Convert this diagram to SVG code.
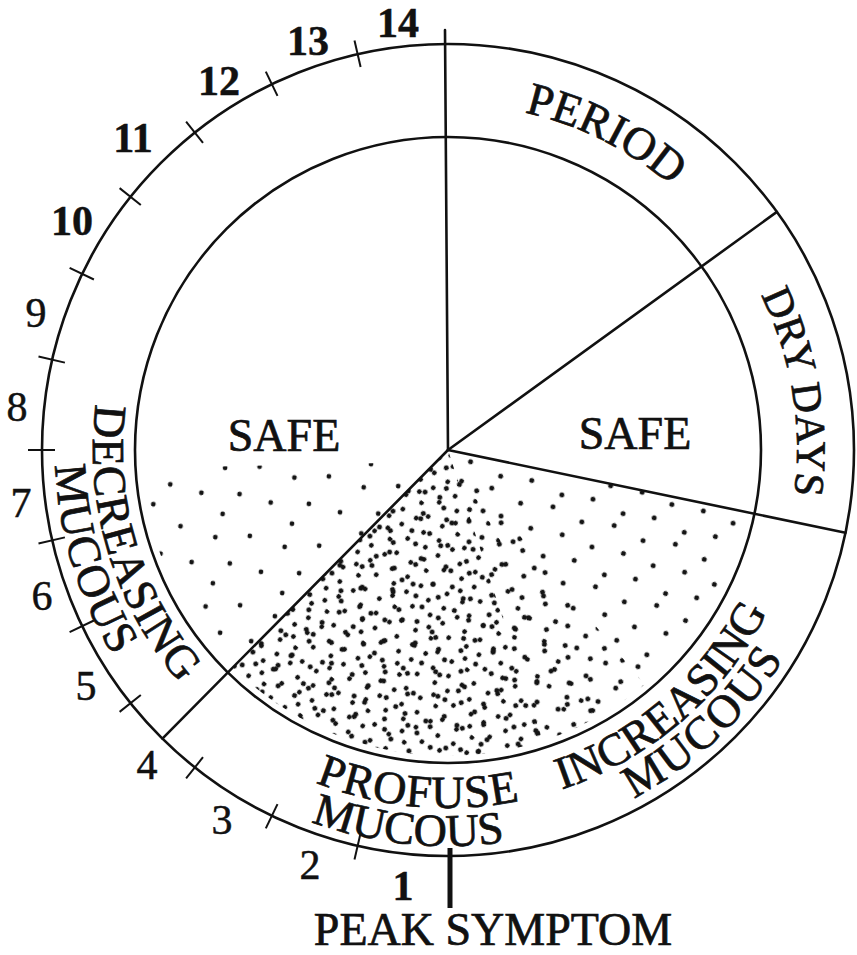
<svg xmlns="http://www.w3.org/2000/svg" width="857" height="955" viewBox="0 0 857 955">
<style>
.ln{fill:none;stroke:#111;stroke-width:2.6;stroke-linecap:round}
.tk{fill:none;stroke:#111;stroke-width:2}
.lb{font-family:"Liberation Serif","Times New Roman",serif;font-size:46px;fill:#111;stroke:#111;stroke-width:0.7}
.num{font-family:"Liberation Serif","Times New Roman",serif;font-size:42px;fill:#111;stroke:#111;stroke-width:0.5;text-anchor:middle}
.b{font-weight:bold}
.dot{fill:#141414}
</style>
<defs>
<pattern id="pA" width="64" height="64" patternUnits="userSpaceOnUse" patternTransform="rotate(17)">
<circle class="dot" cx="5" cy="9" r="2.5"/><circle class="dot" cx="37" cy="3" r="2.5"/><circle class="dot" cx="22" cy="30" r="2.5"/><circle class="dot" cx="54" cy="27" r="2.5"/><circle class="dot" cx="9" cy="48" r="2.5"/><circle class="dot" cx="42" cy="53" r="2.5"/>
</pattern>
<pattern id="pB" width="58" height="58" patternUnits="userSpaceOnUse" patternTransform="rotate(-23) translate(7,11)">
<circle class="dot" cx="6" cy="10" r="2.5"/><circle class="dot" cx="27" cy="4" r="2.5"/><circle class="dot" cx="47" cy="14" r="2.5"/><circle class="dot" cx="18" cy="28" r="2.5"/><circle class="dot" cx="39" cy="33" r="2.5"/><circle class="dot" cx="8" cy="47" r="2.5"/><circle class="dot" cx="29" cy="50" r="2.5"/>
</pattern>
<pattern id="pC" width="48" height="48" patternUnits="userSpaceOnUse" patternTransform="rotate(41) translate(3,5)">
<circle class="dot" cx="4" cy="6" r="2.4"/><circle class="dot" cx="21" cy="2" r="2.4"/><circle class="dot" cx="35" cy="8" r="2.4"/><circle class="dot" cx="11" cy="19" r="2.4"/><circle class="dot" cx="27" cy="17" r="2.4"/><circle class="dot" cx="42" cy="23" r="2.4"/><circle class="dot" cx="5" cy="33" r="2.4"/><circle class="dot" cx="20" cy="31" r="2.4"/><circle class="dot" cx="34" cy="38" r="2.4"/><circle class="dot" cx="12" cy="43" r="2.4"/>
</pattern>
<pattern id="pD" width="70" height="70" patternUnits="userSpaceOnUse" patternTransform="rotate(8)">
<circle class="dot" cx="8" cy="12" r="2.4"/><circle class="dot" cx="42" cy="6" r="2.4"/><circle class="dot" cx="26" cy="36" r="2.4"/><circle class="dot" cx="58" cy="40" r="2.4"/><circle class="dot" cx="12" cy="58" r="2.4"/>
</pattern>
<pattern id="pE" width="50" height="50" patternUnits="userSpaceOnUse" patternTransform="rotate(-61) translate(9,4)">
<circle class="dot" cx="7" cy="9" r="2.4"/><circle class="dot" cx="33" cy="5" r="2.4"/><circle class="dot" cx="20" cy="27" r="2.4"/><circle class="dot" cx="44" cy="33" r="2.4"/><circle class="dot" cx="10" cy="44" r="2.4"/>
</pattern>
<path id="aPeriod" d="M257.0,161.5 A346,346 0 0,1 793.4,428.9"/>
<path id="aDry" d="M570.2,123.1 A349,349 0 0,1 670.0,719.3"/>
<path id="aDec" d="M188.8,207.4 A355,355 0 0,0 367.5,795.8"/>
<path id="aDecM" d="M160.6,182.0 A393,393 0 0,0 359.6,832.9"/>
<path id="aPro" d="M123.5,601.3 A358,358 0 0,0 741.3,655.3"/>
<path id="aProM" d="M86.2,611.1 A396,396 0 0,0 768.4,682.8"/>
<path id="aInc" d="M330.3,788.1 A358,358 0 0,0 799.7,382.9"/>
<path id="aIncM" d="M333.8,828.1 A395,395 0 0,0 832.6,359.8"/>
</defs>
<rect width="857" height="955" fill="#fff"/>

<g id="stipple">
<path d="M448,450 L232.8,667.5 A306,306 0 0,0 747.6,512.3 Z" fill="url(#pA)"/>
<path d="M448,450 L232.8,667.5 A306,306 0 0,0 644.7,684.4 Z" fill="url(#pB)"/>
<path d="M448,450 L232.8,667.5 A306,306 0 0,0 542.6,741.0 Z" fill="url(#pC)"/>
<path d="M448,450 L542.6,741.0 A306,306 0 0,0 601.0,715.0 Z" fill="url(#pE)"/>
<path d="M448,452 L430,462 L142.5,468 A306,306 0 0,0 232.8,667.5 Z" fill="url(#pD)"/>
</g>

<g id="wheel">
<circle class="ln" cx="448" cy="450" r="406" stroke-width="3"/>
<circle class="ln" cx="448" cy="450" r="313"/>
</g>

<g id="connectors">
<line class="ln" x1="448" y1="450" x2="445" y2="30"/>
<line class="ln" x1="448" y1="450" x2="776.9" y2="211.9"/>
<line class="ln" x1="448" y1="450" x2="845.5" y2="532.7"/>
<line class="ln" x1="448" y1="450" x2="162.4" y2="738.6"/>
<line x1="450" y1="848" x2="450" y2="908" stroke="#111" stroke-width="5"/>
</g>

<g id="ticks">
<line class="tk" x1="360.6" y1="66.9" x2="354.5" y2="40.5"/>
<line class="tk" x1="277.5" y1="95.9" x2="265.8" y2="71.6"/>
<line class="tk" x1="203.0" y1="142.8" x2="186.1" y2="121.6"/>
<line class="tk" x1="140.8" y1="205.0" x2="119.6" y2="188.1"/>
<line class="tk" x1="93.9" y1="279.5" x2="69.6" y2="267.8"/>
<line class="tk" x1="64.9" y1="362.6" x2="38.5" y2="356.5"/>
<line class="tk" x1="55" y1="450" x2="28" y2="450"/>
<line class="tk" x1="64.9" y1="537.4" x2="38.5" y2="543.5"/>
<line class="tk" x1="93.9" y1="620.5" x2="69.6" y2="632.2"/>
<line class="tk" x1="140.8" y1="695.0" x2="119.6" y2="711.9"/>
<line class="tk" x1="203.0" y1="757.2" x2="186.1" y2="778.4"/>
<line class="tk" x1="277.5" y1="804.1" x2="265.8" y2="828.4"/>
<line class="tk" x1="360.6" y1="833.1" x2="354.5" y2="859.5"/>
</g>

<g id="days">
<text class="num b" x="398" y="37">14</text>
<text class="num b" x="308" y="55">13</text>
<text class="num b" x="219" y="95">12</text>
<text class="num b" x="133" y="152">11</text>
<text class="num b" x="72" y="235">10</text>
<text class="num" x="36" y="327">9</text>
<text class="num" x="17" y="421">8</text>
<text class="num" x="21" y="517">7</text>
<text class="num" x="42" y="610">6</text>
<text class="num" x="86" y="700">5</text>
<text class="num" x="147" y="779">4</text>
<text class="num" x="222" y="834">3</text>
<text class="num" x="310" y="879">2</text>
<text class="num b" x="403" y="900">1</text>
</g>

<g id="period"><text class="lb"><textPath href="#aPeriod" startOffset="50%" text-anchor="middle">PERIOD</textPath></text></g>
<g id="dry-days"><text class="lb" style="font-size:42px"><textPath href="#aDry" startOffset="50%" text-anchor="middle">DRY DAYS</textPath></text></g>
<g id="decreasing-mucous">
<text class="lb" letter-spacing="1"><textPath href="#aDec" startOffset="50%" text-anchor="middle">DECREASING</textPath></text>
<text class="lb" letter-spacing="1"><textPath href="#aDecM" startOffset="50%" text-anchor="middle">MUCOUS</textPath></text>
</g>
<g id="profuse-mucous">
<text class="lb" letter-spacing="1"><textPath href="#aPro" startOffset="50%" text-anchor="middle">PROFUSE</textPath></text>
<text class="lb"><textPath href="#aProM" startOffset="50%" text-anchor="middle">MUCOUS</textPath></text>
</g>
<g id="increasing-mucous">
<text class="lb"><textPath href="#aInc" startOffset="50%" text-anchor="middle">INCREASING</textPath></text>
<text class="lb" letter-spacing="2"><textPath href="#aIncM" startOffset="50%" text-anchor="middle">MUCOUS</textPath></text>
</g>
<g id="safe-left"><text class="lb" x="284" y="451" text-anchor="middle">SAFE</text></g>
<g id="safe-right"><text class="lb" x="635" y="449" text-anchor="middle">SAFE</text></g>
<g id="peak"><text class="lb" x="493" y="945" text-anchor="middle">PEAK SYMPTOM</text></g>
</svg>
